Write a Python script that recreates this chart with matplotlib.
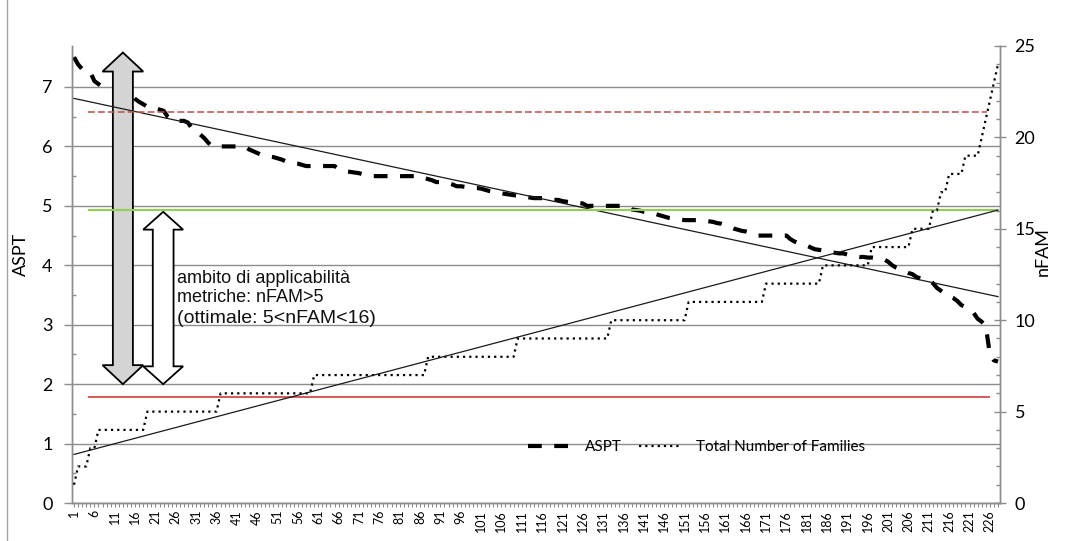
import numpy as np
import matplotlib
matplotlib.use('Agg')
import matplotlib.pyplot as plt
from matplotlib.patches import Polygon
from matplotlib.lines import Line2D

# ASPT per sample, sorted from highest to lowest
aspt = [
    7.50, 7.38, 7.30, 7.27, 7.25, 7.10, 7.05, 7.00, 7.00, 7.00,
    7.00, 7.00, 6.95, 6.90, 6.86, 6.80, 6.75, 6.71, 6.67, 6.67,
    6.64, 6.62, 6.60, 6.50, 6.45, 6.43, 6.43, 6.43, 6.40, 6.30,
    6.25, 6.20, 6.14, 6.06, 6.00, 6.00, 6.00, 6.00, 6.00, 6.00,
    6.00, 6.00, 6.00, 5.95, 5.92, 5.89, 5.86, 5.85, 5.83, 5.82,
    5.80, 5.78, 5.75, 5.74, 5.72, 5.71, 5.69, 5.67, 5.67, 5.67,
    5.67, 5.67, 5.67, 5.67, 5.67, 5.62, 5.60, 5.58, 5.57, 5.56,
    5.55, 5.53, 5.52, 5.50, 5.50, 5.50, 5.50, 5.50, 5.50, 5.50,
    5.50, 5.50, 5.50, 5.50, 5.50, 5.50, 5.47, 5.45, 5.43, 5.40,
    5.40, 5.40, 5.38, 5.36, 5.33, 5.33, 5.32, 5.31, 5.30, 5.30,
    5.29, 5.27, 5.25, 5.24, 5.22, 5.21, 5.20, 5.19, 5.18, 5.17,
    5.15, 5.15, 5.14, 5.13, 5.13, 5.13, 5.12, 5.11, 5.10, 5.10,
    5.08, 5.07, 5.06, 5.05, 5.05, 5.04, 5.00, 5.00, 5.00, 5.00,
    5.00, 5.00, 5.00, 5.00, 5.00, 5.00, 5.00, 4.94, 4.93, 4.92,
    4.90, 4.89, 4.88, 4.86, 4.84, 4.82, 4.80, 4.79, 4.78, 4.77,
    4.76, 4.76, 4.76, 4.76, 4.76, 4.75, 4.74, 4.73, 4.71, 4.70,
    4.68, 4.65, 4.62, 4.60, 4.58, 4.57, 4.55, 4.53, 4.50, 4.50,
    4.50, 4.50, 4.50, 4.50, 4.50, 4.50, 4.44, 4.40, 4.37, 4.35,
    4.33, 4.30, 4.27, 4.26, 4.25, 4.23, 4.22, 4.21, 4.20, 4.20,
    4.18, 4.17, 4.15, 4.14, 4.14, 4.13, 4.13, 4.12, 4.11, 4.10,
    4.06, 4.00, 3.96, 3.93, 3.90, 3.87, 3.85, 3.80, 3.78, 3.77,
    3.75, 3.70, 3.62, 3.57, 3.52, 3.48, 3.45, 3.40, 3.33, 3.30,
    3.25, 3.20, 3.10, 3.05, 2.98, 2.50, 2.40, 2.38,
]

# number of families, sorted ascending: level and how many samples have it
nfam_levels = [1, 2, 3, 4, 5, 6, 7, 8, 9, 10, 11, 12, 13, 14, 15, 16, 17, 18, 19, 20, 21, 22, 23, 24]
nfam_counts = [1, 3, 2, 12, 18, 23, 28, 22, 23, 19, 19, 14, 12, 10, 5, 2, 2, 4, 4, 1, 1, 1, 1, 1]
nfam = np.repeat(nfam_levels, nfam_counts)

samples = np.arange(1, len(aspt) + 1)
tick_pos = samples[::5]
tick_labels = [str(s) for s in tick_pos]

# reference levels on the ASPT scale
aspt_upper = 6.58
aspt_mid = 4.93
aspt_lower = 1.78

plt.rcParams['font.family'] = ['Lato', 'DejaVu Sans']

fig = plt.figure(figsize=(10.65, 5.41), dpi=100)
ax = fig.add_axes([0.0676, 0.0702, 0.8714, 0.8448])
ax2 = ax.twinx()

grid_col = '#8c8c8c'

# ASPT series and its linear trend
ax.plot(samples, aspt, color='black', lw=3.0, dashes=(3.3, 3.0), zorder=3)
k, b = np.polyfit(samples, aspt, 1)
ax.plot(samples, k * samples + b, color='#1a1a1a', lw=0.9, zorder=5)

# reference lines
ax.hlines(aspt_upper, 4.4, 225.3, color='#c0504d', lw=1.1, linestyles=(0, (4.5, 2.0)), zorder=5)
ax.hlines(aspt_mid, 4.4, 228.0, color='#92d050', lw=1.5, zorder=5)
ax.hlines(aspt_lower, 4.4, 226.0, color='#d03c3c', lw=1.2, zorder=5)

# nFAM series and its linear trend
ax2.plot(samples, nfam, color='black', lw=1.6, dashes=(1.0, 1.8), zorder=3)
k2, b2 = np.polyfit(samples, nfam, 1)
ax2.plot(samples, k2 * samples + b2, color='#1a1a1a', lw=0.9, zorder=5)


def double_arrow(axis, xc, y_low, y_high, body, head, head_len, face):
    verts = [
        (xc - body, y_low + head_len), (xc - head, y_low + head_len), (xc, y_low),
        (xc + head, y_low + head_len), (xc + body, y_low + head_len),
        (xc + body, y_high - head_len), (xc + head, y_high - head_len), (xc, y_high),
        (xc - head, y_high - head_len), (xc - body, y_high - head_len),
    ]
    axis.add_patch(Polygon(verts, closed=True, facecolor=face, edgecolor='black',
                           lw=1.3, zorder=4))


double_arrow(ax, 13.0, 2.0, 7.58, 2.46, 5.0, 0.32, '#d4d4d4')
double_arrow(ax, 22.9, 2.0, 4.90, 2.55, 4.9, 0.30, 'white')

txt_font = ['Liberation Sans', 'DejaVu Sans']
ax.text(26.4, 3.78, 'ambito di applicabilità', fontsize=13, family=txt_font,
        va='center', ha='left', color='#111111', zorder=6)
ax.text(26.4, 3.45, 'metriche: nFAM>5', fontsize=13, family=txt_font,
        va='center', ha='left', color='#111111', zorder=6)
ax.text(26.4, 3.10, '(ottimale: 5<nFAM<16)', fontsize=14, family=txt_font,
        va='center', ha='left', color='#111111', zorder=6)

# axes
ax.set_xlim(0.5, len(aspt) + 0.5)
ax.set_ylim(0, 7.69)
ax2.set_ylim(0, 25)

ax.set_yticks(range(0, 8))
ax.set_yticks(np.arange(0.5, 7.6, 1.0), minor=True)
ax.yaxis.grid(True, which='major', color=grid_col, lw=1.0)
ax.set_axisbelow(True)
ax.tick_params(axis='y', which='major', direction='out', length=6, width=1,
               color=grid_col, labelsize=13, pad=8)
ax.tick_params(axis='y', which='minor', direction='in', length=3, width=1, color=grid_col)

ax.set_xticks(tick_pos)
ax.set_xticklabels(tick_labels, rotation=90, fontsize=9)
ax.set_xticks(samples, minor=True)
ax.tick_params(axis='x', which='both', direction='out', length=3, width=0.8,
               color=grid_col, pad=2)

ax2.set_yticks(range(0, 26, 5))
ax2.set_yticks(range(0, 26), minor=True)
ax2.tick_params(axis='y', which='major', direction='inout', length=9, width=1,
                color=grid_col, labelsize=13, pad=6)
ax2.tick_params(axis='y', which='minor', direction='in', length=3, width=1, color=grid_col)

for a in (ax, ax2):
    a.spines['top'].set_visible(False)
    for s in ('left', 'right', 'bottom'):
        a.spines[s].set_color(grid_col)
        a.spines[s].set_linewidth(1.0)

ax.set_ylabel('ASPT', fontsize=13)
ax.yaxis.set_label_coords(-0.046, 0.545)
ax2.set_ylabel('nFAM', fontsize=13)
ax2.yaxis.set_label_coords(1.037, 0.55)

handles = [
    Line2D([], [], color='black', lw=3.0, dashes=(3.3, 3.0)),
    Line2D([], [], color='black', lw=1.6, dashes=(1.0, 1.8)),
]
fig.legend(handles, ['ASPT', 'Total Number of Families'], loc='center',
           bbox_to_anchor=(0.654, 0.174), ncol=2, frameon=False, fontsize=11,
           handlelength=2.75, handletextpad=1.0, columnspacing=1.1)

# chart area frame on the left edge
fig.add_artist(Line2D([7 / 1065, 7 / 1065], [0, 1], color='#a6a6a6', lw=1.0))

fig.savefig('out.png', dpi=100)
